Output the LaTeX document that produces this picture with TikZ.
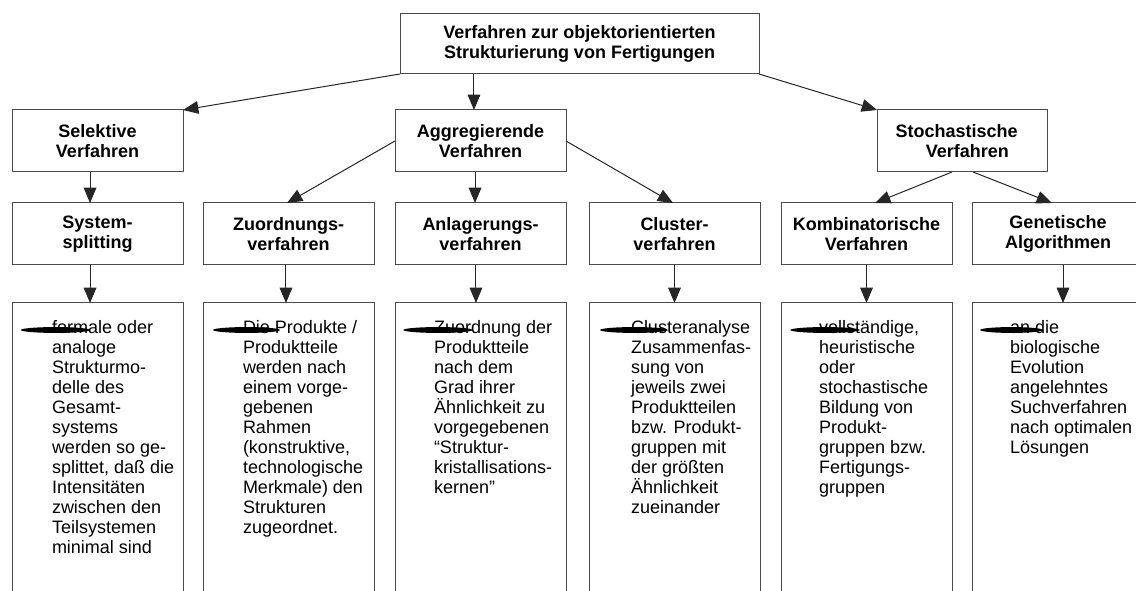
\documentclass[tikz,border=0pt]{standalone}
\usepackage{fontspec}
\setmainfont{Liberation Sans}
\usetikzlibrary{arrows.meta}
\tikzset{
  hbox/.style={draw=black!70, line width=0.75pt, inner sep=0pt, outer sep=0pt,
    minimum width=128.25pt, minimum height=46.5pt, align=center,
    font=\bfseries\fontsize{13.5pt}{15.5pt}\selectfont},
  lbox/.style={draw=black!70, line width=0.75pt, inner sep=0pt, outer sep=0pt,
    minimum width=128.25pt, minimum height=237.75pt},
  ltext/.style={anchor=north west, inner sep=0pt, outer sep=0pt, align=left,
    font=\fontsize{13.5pt}{15pt}\selectfont},
  arr/.style={draw=black!85, line width=0.75pt, -{Triangle[length=11.5pt,width=9.5pt]}},
  blob/.style={fill=black}
}
\begin{document}
\begin{tikzpicture}[x=0.75pt,y=-0.75pt]
\useasboundingbox (0,0) rectangle (1136,591);
\clip (0,0) rectangle (1136,591);
\fill[white] (0,0) rectangle (1136,591);
% level 0
\node[hbox, minimum width=269.25pt, minimum height=45pt] (top) at (579.5,44)
  {Verfahren zur objektorientierten\\Strukturierung von Fertigungen};
% level 1
\node[hbox] (sel) at (97.5,141) {Selektive\\Verfahren};
\node[hbox] (agg) at (480.5,141) {Aggregierende\\Verfahren};
\node[hbox, minimum width=127.5pt] (sto) at (962,141) {Stochastische\hspace*{0.6em}\\\hspace*{0.6em}Verfahren};
% level 2
\node[hbox] (sys) at (97.5,234) {System-\\splitting};
\node[hbox] (zuo) at (288.5,234) {Zuordnungs-\\verfahren};
\node[hbox] (anl) at (480.5,234) {Anlagerungs-\\verfahren};
\node[hbox] (clu) at (674.5,234) {Cluster-\\verfahren};
\node[hbox] (kom) at (866.5,234) {Kombinatorische\\Verfahren};
\node[hbox, minimum width=129pt] (gen) at (1058,234) {Genetische\\Algorithmen};
% level 3 boxes
\node[lbox] (sysb) at (97.5,461.5) {};
\node[lbox] (zuob) at (288.5,461.5) {};
\node[lbox] (anlb) at (480.5,461.5) {};
\node[lbox] (club) at (674.5,461.5) {};
\node[lbox] (komb) at (866.5,461.5) {};
\node[lbox, minimum width=129pt] (genb) at (1058,461.5) {};
% level 3 texts
\node[ltext] (t1) at (52,320) {formale oder\\analoge\\Strukturmo-\\delle des\\Gesamt-\\systems\\werden so ge-\\splittet, daß die\\Intensitäten\\zwischen den\\Teilsystemen\\minimal sind};
\node[ltext] (t2) at (243,320) {Die Produkte /\\Produktteile\\werden nach\\einem vorge-\\gebenen\\Rahmen\\(konstruktive,\\technologische\\Merkmale) den\\Strukturen\\zugeordnet.};
\node[ltext] (t3) at (434,320) {Zuordnung der\\Produktteile\\nach dem\\Grad ihrer\\Ähnlichkeit zu\\vorgegebenen\\“Struktur-\\kristallisations-\\kernen”};
\node[ltext] (t4) at (631,320) {Clusteranalyse\\Zusammenfas-\\sung von\\jeweils zwei\\Produktteilen\\bzw. Produkt-\\gruppen mit\\der größten\\Ähnlichkeit\\zueinander};
\node[ltext] (t5) at (819,320) {vollständige,\\heuristische\\oder\\stochastische\\Bildung von\\Produkt-\\gruppen bzw.\\Fertigungs-\\gruppen};
\node[ltext] (t6) at (1010,320) {an die\\biologische\\Evolution\\angelehntes\\Suchverfahren\\nach optimalen\\Lösungen};
% smeared bullets
\fill[blob] (55.5,330) ellipse [x radius=26pt, y radius=2.2pt];
\fill[blob] (246.5,330) ellipse [x radius=25pt, y radius=2.2pt];
\fill[blob] (438,330) ellipse [x radius=26pt, y radius=2.2pt];
\fill[blob] (634,330) ellipse [x radius=25.5pt, y radius=2.2pt];
\fill[blob] (825,330) ellipse [x radius=26pt, y radius=2.2pt];
\fill[blob] (1011.5,330) ellipse [x radius=23.5pt, y radius=2.2pt];
% connectors level 0 -> 1
\coordinate (a1) at ([xshift=-4.9pt]agg.north);
\draw[arr] (top.south west) -- (sel.north east);
\draw[arr] (top.south -| a1) -- (a1);
\draw[arr] (top.south east) -- (sto.north west);
% level 1 -> 2
\draw[arr] ([xshift=-5.6pt]sel.south) -- ([xshift=-5.6pt]sys.north);
\draw[arr] (agg.west) -- ([xshift=-1.1pt]zuo.north);
\draw[arr] ([xshift=-4.1pt]agg.south) -- ([xshift=-4.1pt]anl.north);
\draw[arr] (agg.east) -- ([xshift=-1.1pt]clu.north);
\draw[arr] ([xshift=-7.5pt]sto.south) -- ([xshift=6.4pt]kom.north);
\draw[arr] ([xshift=8.25pt]sto.south) -- ([xshift=-4.5pt]gen.north);
% level 2 -> 3
\draw[arr] ([xshift=-5.6pt]sys.south) -- ([xshift=-5.6pt]sysb.north);
\draw[arr] ([xshift=-1.9pt]zuo.south) -- ([xshift=-1.9pt]zuob.north);
\draw[arr] ([xshift=-3.4pt]anl.south) -- ([xshift=-3.4pt]anlb.north);
\draw[arr] (clu.south) -- (club.north);
\draw[arr] (kom.south) -- (komb.north);
\draw[arr] ([xshift=3.75pt]gen.south) -- ([xshift=3.75pt]genb.north);
\end{tikzpicture}
\end{document}
